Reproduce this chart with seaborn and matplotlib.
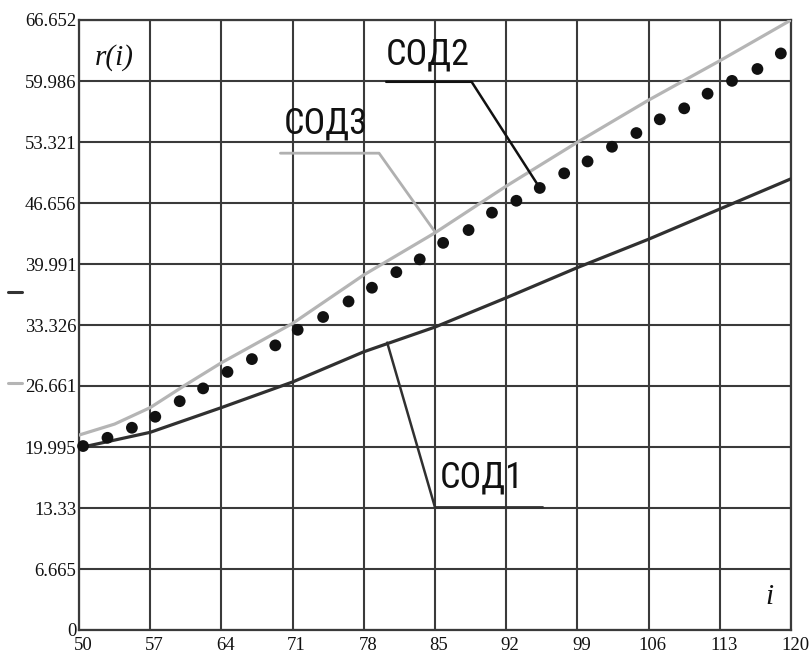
import matplotlib
matplotlib.use("Agg")
import matplotlib.pyplot as plt
from matplotlib import font_manager
import seaborn as sns
import pandas as pd
from matplotlib.lines import Line2D
from matplotlib.transforms import ScaledTranslation

# ---- data ----
i_sod1 = [50, 57, 64, 71, 78, 85, 92, 99, 106, 113, 120]
r_sod1 = [19.9, 21.6, 24.3, 27.1, 30.4, 33.1, 36.3, 39.6, 42.7, 46.0, 49.3]

i_sod3 = [50, 53.5, 57, 60.5, 64, 71, 78, 85, 92, 99, 106, 113, 120]
r_sod3 = [21.3, 22.5, 24.3, 26.8, 29.2, 33.5, 38.8, 43.4, 48.5, 53.3, 57.9, 62.2, 66.65]

i_sod2 = [50.4, 52.8, 55.2, 57.5, 59.9, 62.2, 64.6, 67.0, 69.3, 71.5,
          74.0, 76.5, 78.8, 81.2, 83.5, 85.8, 88.3, 90.6, 93.0, 95.3,
          97.7, 100.0, 102.4, 104.8, 107.1, 109.5, 111.8, 114.2, 116.7, 119.0]
r_sod2 = [20.1, 21.0, 22.1, 23.3, 25.0, 26.4, 28.2, 29.6, 31.1, 32.8,
          34.2, 35.9, 37.4, 39.1, 40.5, 42.3, 43.7, 45.6, 46.9, 48.3,
          49.9, 51.2, 52.8, 54.3, 55.8, 57.0, 58.6, 60.0, 61.3, 63.0]

x_ticks = [50, 57, 64, 71, 78, 85, 92, 99, 106, 113, 120]
y_ticks = [0, 6.665, 13.33, 19.995, 26.661, 33.326, 39.991, 46.656, 53.321, 59.986, 66.652]
y_tick_labels = ["0", "6.665", "13.33", "19.995", "26.661", "33.326",
                 "39.991", "46.656", "53.321", "59.986", "66.652"]
series_names = ["СОД1", "СОД2", "СОД3"]

# ---- style ----
sns.set_style("white")
plt.rcParams['font.family'] = ['Liberation Serif', 'DejaVu Serif']

# pick a narrow sans font if one is installed
narrow = None
for f in font_manager.fontManager.ttflist:
    if ("Narrow" in f.name or "Condensed" in f.name) and f.style == "normal" \
            and f.weight in (400, "normal", "regular"):
        narrow = f.name
        if "Liberation" in f.name or "Arial" in f.name:
            break
if narrow:
    lab_font = [narrow, 'DejaVu Sans']
    lab_size = 26
else:
    lab_font = ['Roboto', 'DejaVu Sans']
    lab_size = 25

W, H = 811, 655
fig = plt.figure(figsize=(W / 100, H / 100), dpi=100)
fig.patch.set_facecolor("white")
ax = fig.add_axes([79 / W, 25 / H, 712 / W, 610 / H])

grid_c = "#3a3a3a"
df1 = pd.DataFrame({"i": i_sod1, "r": r_sod1})
df2 = pd.DataFrame({"i": i_sod2, "r": r_sod2})
df3 = pd.DataFrame({"i": i_sod3, "r": r_sod3})

sns.lineplot(data=df3, x="i", y="r", color="#b5b5b5", lw=2.3, ax=ax, zorder=3)
sns.lineplot(data=df1, x="i", y="r", color="#303030", lw=2.3, ax=ax, zorder=3)
sns.scatterplot(data=df2, x="i", y="r", color="#111111", s=72, edgecolor="none",
                ax=ax, zorder=4, clip_on=False)

ax.set_xlim(50, 120)
ax.set_ylim(0, 66.652)
ax.set_xticks(x_ticks)
ax.set_xticklabels([str(v) for v in x_ticks])
ax.set_yticks(y_ticks)
ax.set_yticklabels(y_tick_labels)
ax.set_xlabel("")
ax.set_ylabel("")
ax.grid(True, color=grid_c, lw=1.5, zorder=1)
ax.set_axisbelow(True)
for s in ax.spines.values():
    s.set_color(grid_c)
    s.set_linewidth(1.6)
    s.set_visible(True)
ax.tick_params(axis="both", length=0, labelsize=13.5, colors="#111111")
ax.tick_params(axis="y", pad=2)
ax.tick_params(axis="x", pad=5)
off = ScaledTranslation(4 / 100, 0, fig.dpi_scale_trans)
for lab in ax.get_xticklabels():
    lab.set_transform(lab.get_transform() + off)

# axis names
ax.text(0.0225, 0.939, "r(i)", transform=ax.transAxes, fontsize=21,
        fontstyle="italic", va="center", ha="left", color="#111111")
ax.text(0.970, 0.054, "i", transform=ax.transAxes, fontsize=21,
        fontstyle="italic", va="center", ha="center", color="#111111")

# annotations with leader lines
ax.plot([80.2, 88.6, 95.3], [59.9, 59.9, 48.3], color="#111111", lw=1.8, zorder=5)
ax.text(84.3, 62.9, series_names[1], fontsize=lab_size, family=lab_font,
        ha="center", va="center", color="#111111", zorder=6)
ax.plot([69.8, 79.5, 85.0], [52.1, 52.1, 43.5], color="#b0b0b0", lw=2.0, zorder=5)
ax.text(74.3, 55.3, series_names[2], fontsize=lab_size, family=lab_font,
        ha="center", va="center", color="#111111", zorder=6)
ax.plot([80.3, 85.0, 95.6], [31.4, 13.4, 13.4], color="#303030", lw=1.8, zorder=5)
ax.text(89.6, 16.7, series_names[0], fontsize=lab_size, family=lab_font,
        ha="center", va="center", color="#111111", zorder=6)

# small trace markers at the left edge
fig.add_artist(Line2D([8 / W, 22 / W], [1 - 292 / H] * 2, color="#333333", lw=2.2))
fig.add_artist(Line2D([8 / W, 22 / W], [1 - 383 / H] * 2, color="#b5b5b5", lw=2.2))

fig.savefig("out.png", dpi=100, facecolor="white")
